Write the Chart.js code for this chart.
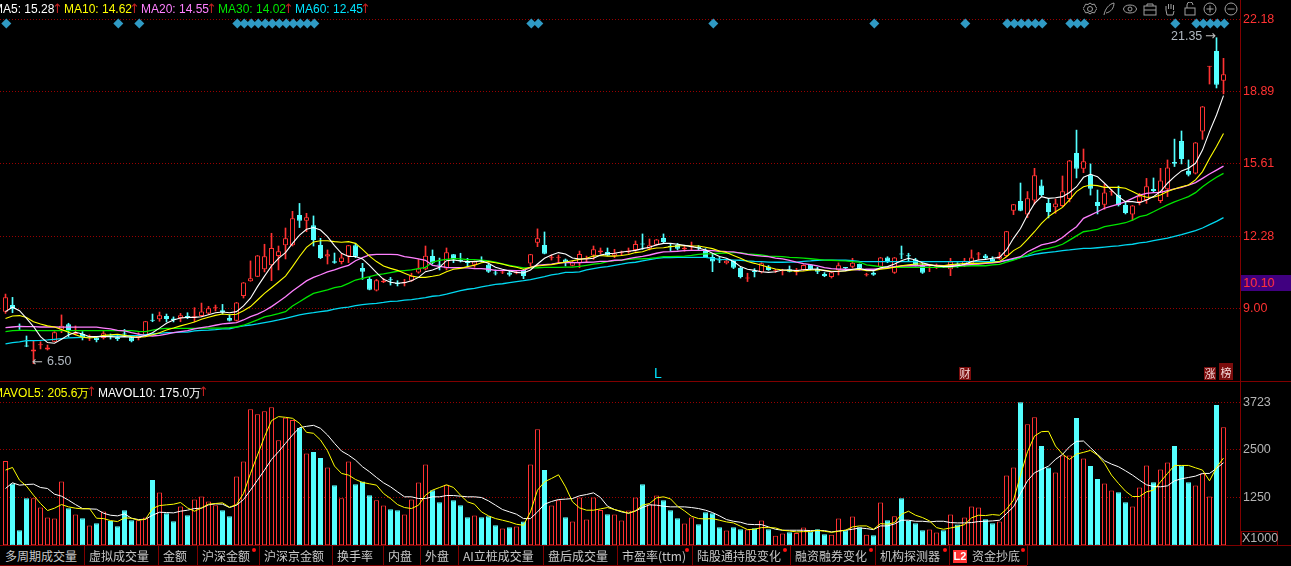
<!DOCTYPE html>
<html>
<head>
<meta charset="utf-8">
<title>K</title>
<script src="https://cdn.jsdelivr.net/npm/chart.js@4"></script>
<style>
html, body { margin: 0; padding: 0; background: #000; overflow: hidden; }
#wrap { position: relative; width: 1291px; height: 566px; background: #000; overflow: hidden;
    font-family: "Liberation Sans", Arial, sans-serif; font-size: 12px; }
canvas { position: absolute; left: 0; }
#wrap span, #wrap div { position: absolute; white-space: nowrap; }
.line { background: #800000; }
.tab { color: #c8c8c8; top: 549px; font-family: "Noto Sans CJK SC", sans-serif; line-height: 14px; }
.sep { top: 546px; width: 1px; height: 19px; background: #800000; }
.dot { top: 548px; width: 4px; height: 4px; border-radius: 2px; background: #ff1010; }
.flag { background: #7a0c0c; color: #f5d8d8; font-family: "Noto Sans CJK SC", sans-serif; line-height: 13px; text-align: center; }
</style>
</head>
<body>
<div id="wrap">
<canvas id="priceChart" width="1291" height="380" style="top:0"></canvas>
<canvas id="volChart" width="1291" height="165" style="top:381px"></canvas>
</div>
<script>
// candles
const opens = [
8.87,9.17,8.20,7.31,7.05,7.34,7.15,7.50,8.06,8.29,
7.85,7.85,7.72,7.69,7.67,7.77,7.70,7.85,7.70,7.67,
7.81,8.48,8.52,8.67,8.56,8.58,8.64,8.60,8.67,8.78,
9.02,8.93,8.58,8.46,9.58,10.25,10.46,10.80,10.98,11.40,
11.89,11.89,13.27,13.01,12.80,11.91,11.38,11.16,11.13,11.39,
11.89,10.86,10.36,9.83,10.21,10.32,10.15,10.17,10.28,10.65,
10.80,11.40,10.99,10.84,11.48,11.20,11.11,11.01,11.22,11.01,
10.63,10.65,10.65,10.62,10.77,11.06,12.01,11.91,11.33,11.32,
11.25,10.96,11.07,11.27,11.43,11.57,11.59,11.42,11.55,11.57,
11.68,11.95,11.74,11.92,12.22,11.84,11.91,11.71,11.80,11.79,
11.63,11.36,11.22,11.07,11.18,10.86,10.38,10.69,10.66,10.93,
10.71,10.71,10.80,10.66,10.75,11.01,10.80,10.59,10.45,10.75,
10.88,10.92,11.04,10.53,10.64,10.92,11.34,10.64,11.49,11.41,
11.25,11.02,10.86,10.91,10.95,10.80,11.04,11.00,11.07,11.47,
11.43,11.28,11.28,11.40,13.47,13.91,13.29,13.93,14.62,13.82,
13.62,13.68,14.00,16.10,15.38,15.11,13.87,13.74,14.31,14.18,
13.73,13.29,13.87,13.96,14.46,13.91,14.44,15.69,16.64,15.28,
15.16,17.08,20.03,20.74,19.39];
const closes = [
9.52,9.00,8.18,7.28,7.15,7.36,7.24,7.93,8.23,7.99,
7.91,7.69,7.76,7.58,7.88,7.75,7.62,7.83,7.52,7.76,
8.43,8.46,8.70,8.53,8.49,8.70,8.62,8.66,8.88,9.02,
9.04,8.84,8.46,9.29,10.20,10.39,11.43,11.39,11.77,11.62,
12.21,13.12,13.01,13.17,12.13,11.31,11.48,11.10,11.34,11.89,
11.37,10.69,9.87,10.30,10.28,10.30,10.13,10.19,10.51,10.84,
11.42,11.10,10.97,11.57,11.25,11.18,11.09,11.16,11.16,10.69,
10.61,10.67,10.55,10.68,10.49,11.48,12.21,11.51,11.35,11.34,
11.10,11.12,11.50,11.29,11.71,11.66,11.43,11.53,11.57,11.65,
11.95,11.93,11.89,12.16,12.04,11.82,11.74,11.78,11.86,11.77,
11.36,11.15,11.20,11.19,10.87,10.45,10.40,10.67,11.07,10.77,
10.73,10.75,10.69,10.74,10.99,10.80,10.69,10.49,10.66,10.98,
10.86,11.10,10.83,10.55,10.55,11.34,11.13,11.34,11.47,11.39,
10.98,10.64,10.88,10.93,10.92,11.15,10.92,11.19,11.34,11.49,
11.31,11.13,11.39,12.53,13.76,13.47,14.03,15.08,14.18,13.41,
13.80,14.35,15.76,15.38,15.72,14.47,13.68,14.30,14.33,13.73,
13.36,13.71,14.13,14.58,14.37,14.85,15.44,15.61,15.82,15.11,
16.58,18.22,20.05,19.21,19.68];
const highs = [
9.67,9.52,8.31,7.76,7.55,7.50,7.35,7.96,8.72,8.34,
8.22,7.96,7.81,7.73,7.97,7.85,7.81,8.06,7.73,7.91,
8.43,8.76,8.85,8.76,8.63,8.79,8.82,9.05,9.26,9.11,
9.17,9.20,8.73,9.29,10.20,11.18,11.43,11.94,12.44,11.86,
12.68,13.44,13.80,13.35,13.23,12.21,11.68,11.54,11.50,11.89,
11.98,11.07,10.43,10.34,10.39,10.43,10.28,10.34,10.62,11.25,
11.86,11.68,11.31,11.77,11.48,11.53,11.30,11.19,11.37,11.04,
10.77,10.72,10.72,10.72,10.80,11.48,12.64,12.50,11.45,11.45,
11.27,11.18,11.63,11.40,11.86,11.77,11.77,11.71,11.63,11.77,
12.09,12.41,12.18,12.16,12.41,11.98,11.98,11.89,12.04,11.88,
11.74,11.50,11.34,11.22,11.19,10.89,10.62,10.83,11.10,10.97,
10.80,10.80,10.95,10.84,11.01,11.01,10.89,10.65,10.66,11.09,
10.89,11.30,11.04,10.62,10.69,11.34,11.37,11.34,11.86,11.53,
11.30,11.07,11.00,11.04,10.98,11.30,11.10,11.30,11.68,11.57,
11.48,11.37,11.57,12.53,13.76,14.73,14.34,15.40,14.87,14.03,
14.00,15.05,15.76,17.14,16.28,15.60,14.41,14.67,14.44,14.59,
13.88,13.71,14.26,14.94,14.96,15.40,15.78,16.73,17.10,15.78,
16.58,18.22,20.05,21.35,20.41];
const lows = [
8.79,8.82,8.06,7.27,6.50,7.17,7.12,7.50,7.91,7.73,
7.81,7.58,7.55,7.49,7.62,7.62,7.55,7.73,7.49,7.58,
7.78,8.41,8.43,8.40,8.40,8.41,8.55,8.41,8.64,8.75,
8.90,8.76,8.44,8.44,9.49,10.25,10.46,10.68,10.28,10.77,
11.27,11.86,12.70,12.51,11.86,11.28,11.04,11.07,11.04,11.10,
11.33,10.34,9.86,9.81,10.19,10.08,10.04,10.04,10.25,10.62,
10.77,11.04,10.77,10.77,11.10,11.13,10.95,10.89,11.13,10.65,
10.54,10.60,10.49,10.59,10.37,10.95,11.83,11.50,11.22,11.10,
10.95,10.95,10.87,11.10,11.25,11.50,11.42,11.33,11.42,11.53,
11.62,11.71,11.68,11.89,12.01,11.63,11.68,11.62,11.68,11.68,
11.33,10.69,11.10,11.04,10.83,10.40,10.24,10.45,10.63,10.75,
10.65,10.54,10.68,10.54,10.74,10.77,10.60,10.46,10.40,10.54,
10.77,10.86,10.77,10.49,10.52,10.89,11.10,10.61,11.28,11.16,
10.95,10.61,10.69,10.83,10.89,10.51,10.89,10.92,11.04,11.22,
11.28,11.10,11.25,11.37,13.29,13.46,13.15,13.77,14.15,13.14,
13.35,13.65,13.87,14.96,15.20,14.18,13.32,13.53,14.17,13.68,
13.32,13.04,13.73,13.80,14.29,13.83,14.11,15.48,15.60,15.05,
15.14,16.72,19.24,19.06,18.79];

// moving average lines
const ma5 = [
8.87,9.07,8.91,8.56,8.19,7.73,7.46,7.43,7.61,7.81,
7.93,7.85,7.73,7.73,7.73,7.73,7.71,7.73,7.70,7.71,
7.78,7.91,8.12,8.34,8.49,8.58,8.61,8.61,8.64,8.73,
8.82,8.85,8.82,8.87,9.13,9.48,10.01,10.49,10.95,11.30,
11.56,11.98,12.36,12.62,12.70,12.59,12.29,11.88,11.53,11.38,
11.38,11.27,10.98,10.65,10.34,10.21,10.16,10.19,10.28,10.43,
10.69,10.77,10.89,11.19,11.22,11.18,11.15,11.15,11.18,11.07,
10.89,10.80,10.72,10.66,10.63,10.77,11.04,11.30,11.45,11.56,
11.50,11.31,11.27,11.27,11.30,11.45,11.51,11.53,11.59,11.62,
11.66,11.74,11.80,11.91,11.98,11.98,11.94,11.89,11.83,11.77,
11.68,11.53,11.38,11.30,11.15,10.92,10.80,10.75,10.69,10.66,
10.69,10.77,10.77,10.74,10.78,10.80,10.81,10.74,10.69,10.71,
10.74,10.80,10.84,10.77,10.74,10.87,10.92,11.04,11.19,11.30,
11.22,11.10,11.00,10.95,10.92,10.92,10.96,11.02,11.15,11.22,
11.25,11.30,11.34,11.68,12.21,12.66,13.27,13.80,14.11,14.03,
14.06,14.11,14.30,14.56,14.99,15.13,15.02,14.72,14.41,14.11,
13.88,13.88,13.83,13.96,14.11,14.34,14.72,15.02,15.28,15.40,
15.63,16.23,17.07,17.83,18.71];
const ma10 = [
8.56,8.67,8.69,8.60,8.41,8.31,8.22,8.17,8.06,7.93,
7.82,7.71,7.67,7.70,7.79,7.81,7.84,7.79,7.73,7.70,
7.73,7.82,7.91,8.03,8.12,8.22,8.31,8.40,8.52,8.61,
8.70,8.76,8.73,8.75,8.91,9.10,9.40,9.70,9.96,10.22,
10.49,10.92,11.38,11.80,12.04,12.10,12.10,12.06,12.03,12.06,
11.98,11.71,11.40,11.15,10.95,10.84,10.75,10.62,10.49,10.43,
10.43,10.48,10.54,10.69,10.80,10.84,10.92,10.98,11.10,11.15,
11.10,11.04,10.95,10.89,10.80,10.89,10.95,10.98,11.01,11.07,
11.13,11.19,11.25,11.30,11.40,11.43,11.40,11.40,11.43,11.47,
11.56,11.60,11.71,11.77,11.78,11.83,11.86,11.88,11.86,11.86,
11.80,11.74,11.63,11.56,11.43,11.30,11.15,11.07,10.98,10.89,
10.81,10.77,10.74,10.71,10.72,10.77,10.77,10.75,10.71,10.71,
10.72,10.77,10.80,10.74,10.74,10.80,10.84,10.89,10.96,11.00,
11.04,11.04,11.01,10.96,10.96,11.01,11.04,11.06,11.07,11.07,
11.10,11.12,11.15,11.37,11.65,11.83,12.16,12.51,12.89,13.20,
13.42,13.62,13.96,14.34,14.56,14.64,14.61,14.53,14.53,14.53,
14.49,14.34,14.18,14.08,14.08,14.18,14.34,14.46,14.56,14.64,
14.87,15.25,15.85,16.39,16.99];
const ma20 = [
8.14,8.17,8.20,8.19,8.19,8.17,8.17,8.17,8.16,8.16,
8.16,8.16,8.16,8.16,8.12,8.08,8.02,7.99,7.91,7.85,
7.78,7.76,7.79,7.85,7.91,7.96,8.00,8.08,8.14,8.19,
8.25,8.31,8.34,8.37,8.49,8.64,8.76,8.91,9.10,9.32,
9.55,9.81,10.04,10.27,10.43,10.55,10.68,10.77,10.89,10.98,
11.19,11.33,11.45,11.48,11.48,11.48,11.47,11.38,11.33,11.27,
11.21,10.98,10.93,10.89,10.87,10.87,10.86,10.83,10.83,10.80,
10.75,10.75,10.75,10.74,10.74,10.89,10.98,11.01,11.03,11.09,
11.10,11.10,11.10,11.12,11.13,11.16,11.16,11.21,11.22,11.28,
11.34,11.39,11.45,11.53,11.59,11.60,11.62,11.65,11.66,11.66,
11.66,11.65,11.62,11.60,11.59,11.54,11.48,11.43,11.40,11.38,
11.31,11.27,11.21,11.13,11.06,11.01,10.95,10.87,10.83,10.81,
10.80,10.78,10.77,10.80,10.80,10.83,10.87,10.92,10.95,10.96,
10.96,10.96,10.98,10.98,10.96,10.98,10.98,11.00,11.02,11.04,
11.07,11.09,11.13,11.22,11.30,11.37,11.60,11.75,11.91,11.98,
12.06,12.25,12.51,12.74,13.12,13.27,13.42,13.58,13.68,13.77,
13.88,14.03,14.18,14.26,14.29,14.30,14.38,14.46,14.53,14.63,
14.75,14.94,15.14,15.32,15.50];
const ma30 = [
7.96,8.00,8.02,8.02,8.00,8.00,8.00,8.00,8.00,8.00,
8.00,8.00,8.00,8.00,8.00,8.00,8.00,8.00,8.00,7.97,
7.96,8.03,8.08,8.11,8.11,8.11,8.11,8.11,8.12,8.12,
8.12,8.12,8.14,8.17,8.25,8.37,8.49,8.63,8.70,8.78,
8.87,9.13,9.32,9.52,9.70,9.78,9.86,9.96,10.02,10.16,
10.31,10.39,10.46,10.54,10.59,10.65,10.71,10.74,10.77,10.83,
10.89,11.13,11.21,11.25,11.28,11.27,11.24,11.24,11.21,11.18,
11.13,11.04,10.98,10.92,10.86,10.86,10.87,10.89,10.89,10.89,
10.90,10.90,10.93,10.98,11.03,11.07,11.15,11.19,11.22,11.25,
11.27,11.28,11.30,11.33,11.38,11.38,11.39,11.40,11.43,11.48,
11.50,11.51,11.53,11.54,11.56,11.56,11.50,11.48,11.45,11.40,
11.39,11.38,11.34,11.33,11.31,11.28,11.25,11.22,11.21,11.19,
11.18,11.15,11.13,11.00,10.96,10.92,10.89,10.89,10.89,10.89,
10.89,10.89,10.89,10.89,10.90,10.90,10.92,10.95,10.96,10.96,
10.96,11.00,11.02,11.12,11.22,11.33,11.45,11.60,11.68,11.75,
11.83,11.94,12.13,12.32,12.51,12.56,12.62,12.74,12.80,12.86,
12.92,13.04,13.20,13.27,13.42,13.58,13.73,13.87,13.99,14.11,
14.29,14.56,14.79,14.99,15.17];
const ma60 = [
7.40,7.46,7.49,7.55,7.55,7.56,7.58,7.61,7.64,7.67,
7.69,7.70,7.71,7.73,7.75,7.76,7.76,7.78,7.78,7.79,
7.82,7.85,7.88,7.91,7.91,7.94,7.94,7.99,8.02,8.03,
8.05,8.08,8.09,8.16,8.22,8.26,8.31,8.37,8.43,8.49,
8.56,8.64,8.72,8.78,8.82,8.87,8.91,8.98,9.04,9.08,
9.14,9.19,9.22,9.25,9.29,9.34,9.35,9.39,9.42,9.46,
9.51,9.57,9.60,9.67,9.75,9.83,9.89,9.93,10.00,10.05,
10.11,10.14,10.19,10.24,10.28,10.33,10.40,10.46,10.54,10.59,
10.66,10.66,10.68,10.77,10.83,10.89,10.92,10.98,11.03,11.09,
11.12,11.18,11.24,11.30,11.33,11.33,11.34,11.34,11.34,11.34,
11.34,11.30,11.25,11.24,11.22,11.21,11.18,11.16,11.15,11.13,
11.12,11.12,11.13,11.13,11.16,11.18,11.21,11.22,11.22,11.21,
11.21,11.19,11.16,11.15,11.15,11.15,11.15,11.15,11.15,11.15,
11.15,11.15,11.15,11.15,11.15,11.15,11.15,11.15,11.15,11.15,
11.15,11.15,11.16,11.19,11.25,11.34,11.40,11.48,11.53,11.57,
11.60,11.65,11.68,11.72,11.75,11.75,11.78,11.81,11.84,11.87,
11.91,11.94,12.00,12.04,12.10,12.16,12.22,12.30,12.38,12.47,
12.56,12.68,12.83,12.98,13.15];

// volume pane, x1000 units
const volumes = [
2192,1610,392,1227,1227,983,722,696,1662,966,
800,705,513,574,879,635,496,914,653,653,
722,1697,1375,835,626,1009,783,1192,1270,1140,
1044,914,757,1792,2184,3541,3410,3489,3593,2732,
3323,3263,3062,2393,2427,2271,2027,1566,1227,2184,
1592,1662,1305,1175,1035,940,914,800,1192,1636,
2105,1436,1122,1575,1175,1044,731,774,731,757,
522,435,470,487,618,2105,3019,1958,1035,1175,
731,618,1244,670,1244,922,809,800,644,905,
1244,1592,1070,1296,1175,914,705,566,722,548,
861,835,470,383,470,418,409,444,644,418,
252,305,339,322,461,357,418,287,278,696,
392,748,470,278,261,1114,652,757,1227,635,
574,392,409,331,392,800,539,722,1009,983,
679,574,618,1818,2027,3723,3149,3332,2584,2027,
1897,2340,2340,3315,2262,2062,1723,1610,1427,1383,
1122,1009,1505,2079,1644,1975,2158,2584,2079,1644,
1557,1871,1270,3654,3071];
const mavol5 = [
1958,2027,1697,1540,1305,1088,905,966,1061,1001,
966,948,957,705,696,644,618,713,705,653,
679,957,1035,1053,1070,1114,974,887,974,1070,
1088,1105,992,1061,1349,1871,2349,2828,3245,3350,
3332,3306,3176,2941,2915,2741,2462,2062,1871,1827,
1714,1636,1601,1566,1349,1218,1061,983,957,1044,
1305,1436,1505,1575,1505,1305,1131,1070,870,766,
696,653,609,548,522,870,1436,1653,1740,1836,
1523,1131,974,914,914,948,983,931,887,835,
896,1044,1088,1235,1262,1209,1018,896,757,696,
687,696,653,609,583,496,409,418,461,461,
452,392,374,348,357,357,392,365,339,365,
392,479,505,505,418,566,548,592,809,887,
783,722,635,461,418,452,487,539,713,783,
774,800,783,940,1175,1827,2436,2845,2958,2967,
2584,2375,2236,2375,2419,2471,2349,2132,1827,1610,
1409,1270,1270,1392,1436,1653,1871,2079,2079,2079,
2018,1958,1679,2027,2271];
const mavol10 = [
1479,1627,1566,1583,1592,1505,1479,1331,1279,1175,
1061,957,948,940,835,783,766,818,705,670,
679,783,861,853,844,887,914,957,966,1053,
1079,1070,983,1044,1192,1436,1697,1958,2236,2436,
2654,2871,3062,3097,3123,3045,2871,2654,2453,2349,
2219,2045,1914,1766,1627,1523,1392,1262,1262,1218,
1218,1262,1262,1296,1296,1279,1262,1262,1244,1157,
1044,931,870,809,696,696,870,1070,1140,1192,
1201,1218,1288,1322,1366,1244,1018,931,870,835,
896,983,1053,1044,1018,1001,1001,1001,983,957,
914,853,766,670,626,600,548,539,539,479,
418,392,392,392,392,383,383,383,348,374,
392,418,452,435,409,505,505,557,653,653,
626,626,609,626,626,592,583,583,592,618,
626,635,653,827,1001,1349,1679,1888,1975,2062,
2236,2366,2567,2706,2714,2540,2366,2201,2114,2045,
1940,1827,1697,1575,1531,1523,1549,1679,1731,1766,
1801,1871,1871,2001,2149];

// axis ticks and the row of diamond signals
const priceTicks = [22.18, 18.89, 15.61, 12.28, 9.00];
const volTicks = [3723, 2500, 1250];
const signalBars = [0,16,19,33,34,35,36,37,38,39,40,41,42,43,44,75,76,101,124,137,143,144,145,146,147,148,152,153,154,167,170,171,172,173,174];
const signalPrice = 22.0;

const legendTop = [
    ['MA5: 15.28', '#ffffff', -7, 52],
    ['MA10: 14.62', '#ffff00', 64, 129],
    ['MA20: 14.55', '#ff80ff', 141, 206],
    ['MA30: 14.02', '#00e600', 218, 283],
    ['MA60: 12.45', '#00e5ff', 295, 360]
];
const legendVol = [
    ['MAVOL5: 205.6万', '#ffff00', -7, 86],
    ['MAVOL10: 175.0万', '#ffffff', 98, 198]
];
const tabs = [
    ['多周期成交量', 0], ['虚拟成交量', 84], ['金额', 158], ['沪深金额', 197], ['沪深京金额', 259],
    ['换手率', 332], ['内盘', 383], ['外盘', 420], ['AI立桩成交量', 458], ['盘后成交量', 543],
    ['市盈率(ttm)', 617], ['陆股通持股变化', 692], ['融资融券变化', 790], ['机构探测器', 875]
];
const tabDots = [254, 687, 785, 871, 945, 1023];

const RED = '#ff3232';
const CYAN = '#54ffff';
const GRID = '#990000';
const PLOT_W = 1240;
const BAR_X0 = 5.5; // pixel centre of first bar
const BAR_STEP = 7;
const xMin = -BAR_X0 / BAR_STEP;
const xMax = (PLOT_W - BAR_X0) / BAR_STEP;

const isUp = opens.map((o, i) => closes[i] >= o);
const upColors = isUp.map(u => u ? RED : CYAN);

function maLine(values, color, order, width) {
    return {
        type: 'line',
        data: values.map((v, i) => ({ x: i, y: v })),
        borderColor: color,
        borderWidth: width,
        pointRadius: 0,
        tension: 0,
        order: order
    };
}

function yAxis(min, max, ticks, color, fmt) {
    return {
        position: 'right',
        min: min,
        max: max,
        afterBuildTicks: scale => { scale.ticks = ticks.map(v => ({ value: v })); },
        afterFit: scale => {
            scale.width = 1291 - PLOT_W;
            scale.paddingTop = 0;
            scale.paddingBottom = 0;
        },
        grid: { color: GRID, drawTicks: false, lineWidth: 1 },
        border: { display: false, dash: [1, 2] },
        ticks: {
            color: color,
            padding: 3,
            autoSkip: false,
            maxRotation: 0,
            font: { family: '"Liberation Sans", Arial, sans-serif', size: 12.5 },
            callback: fmt
        }
    };
}

const xAxis = { type: 'linear', display: false, offset: false, min: xMin, max: xMax };

const baseOptions = {
    responsive: false,
    animation: false,
    devicePixelRatio: 1,
    layout: { padding: 0, autoPadding: false },
    plugins: { legend: { display: false }, tooltip: { enabled: false } },
    events: []
};

// price pane
new Chart(document.getElementById('priceChart').getContext('2d'), {
    type: 'bar',
    data: {
        datasets: [
            {
                type: 'line',
                data: signalBars.map(i => ({ x: i + 0.12, y: signalPrice })),
                showLine: false,
                pointStyle: 'rectRot',
                pointRadius: 5,
                pointBackgroundColor: '#2f9ac4',
                pointBorderWidth: 0,
                order: 0
            },
            maLine(ma5, '#ffffff', 1, 1.1),
            maLine(ma10, '#ffff00', 2, 1.1),
            maLine(ma20, '#ff80ff', 3, 1.3),
            maLine(ma30, '#00e600', 4, 1.3),
            maLine(ma60, '#00d8f0', 5, 1.3),
            {
                data: opens.map((o, i) => ({ x: i, y: [o, closes[i]] })),
                grouped: false,
                barPercentage: 5 / 7,
                categoryPercentage: 1,
                minBarLength: 1,
                borderWidth: 1,
                borderSkipped: false,
                borderColor: upColors,
                backgroundColor: isUp.map(u => u ? '#000000' : CYAN),
                order: 6
            },
            {
                data: lows.map((l, i) => ({ x: i, y: [l, highs[i]] })),
                grouped: false,
                barPercentage: 1,
                categoryPercentage: 1,
                maxBarThickness: 1,
                borderWidth: 0,
                backgroundColor: upColors,
                order: 7
            }
        ]
    },
    options: Object.assign({}, baseOptions, {
        scales: {
            x: xAxis,
            y: yAxis(5.755, 23.068, priceTicks, RED, v => v.toFixed(2))
        }
    })
});

// volume pane
new Chart(document.getElementById('volChart').getContext('2d'), {
    type: 'bar',
    data: {
        datasets: [
            maLine(mavol5, '#ffff00', 1, 1),
            maLine(mavol10, '#ffffff', 2, 1),
            {
                data: volumes.map((v, i) => ({ x: i, y: v })),
                grouped: false,
                barPercentage: 5 / 7,
                categoryPercentage: 1,
                borderWidth: 1,
                borderSkipped: false,
                borderColor: upColors,
                backgroundColor: isUp.map(u => u ? '#000000' : CYAN),
                order: 3
            }
        ]
    },
    options: Object.assign({}, baseOptions, {
        scales: {
            x: xAxis,
            y: yAxis(-18, 4277, volTicks, '#b4b4b4', v => String(v))
        }
    })
});

// text and frame around the charts
const wrap = document.getElementById('wrap');

function addEl(tag, cls, css, text) {
    const el = document.createElement(tag);
    if (cls) el.className = cls;
    el.style.cssText = css;
    if (text !== undefined) el.textContent = text;
    wrap.appendChild(el);
    return el;
}

function addLegend(items, top) {
    items.forEach(([label, color, x, arrowX]) => {
        addEl('span', '', `left:${x}px;top:${top}px;color:${color}`, label);
        addEl('span', '', `left:${arrowX}px;top:${top - 1}px;color:#c02020;font:13px "DejaVu Sans"`, '↑');
    });
}

addEl('div', 'line', 'left:1240px;top:0;width:1px;height:545px');
addEl('div', 'line', 'left:0;top:381px;width:1291px;height:1px');
addEl('div', 'line', 'left:0;top:545px;width:1291px;height:1px');
addEl('div', 'line', 'left:0;top:565px;width:1027px;height:1px');

addLegend(legendTop, 2);
addLegend(legendVol, 385);

tabs.forEach(([label, x]) => {
    addEl('span', 'tab', `left:${x + 5}px`, label);
    if (x > 0) addEl('div', 'sep', `left:${x}px`);
});
addEl('div', 'sep', 'left:949px');
addEl('div', 'sep', 'left:1027px');
tabDots.forEach(x => addEl('div', 'dot', `left:${x - 2}px`));
addEl('div', '', `left:953px;top:550px;width:14px;height:13px;line-height:13px;background:${RED};color:#fff;font-weight:bold;font-size:11px;text-align:center`, 'L2');
addEl('span', 'tab', 'left:972px', '资金抄底');

// last price box and unit box
addEl('div', '', `left:1241px;top:275px;width:50px;height:16px;line-height:17px;background:#400080;color:${RED};font-size:12.5px;text-indent:2px`, '10.10');
addEl('div', '', 'left:1241px;top:531px;width:35px;height:13px;line-height:13px;border:1px solid #800000;color:#b4b4b4;font-size:12.5px;text-align:center', 'X1000');

// high and low notes, with their little arrows
addEl('span', '', 'left:47px;top:354px;color:#b0b8c0;font-size:12.5px', '6.50');
addEl('span', '', 'left:32px;top:354px;color:#c0c0c0;font:13px "DejaVu Sans"', '←');
addEl('span', '', 'left:1171px;top:29px;color:#b0b8c0;font-size:12.5px', '21.35');
addEl('span', '', 'left:1205px;top:28px;color:#c0c0c0;font:13px "DejaVu Sans"', '→');

// event flags
addEl('span', '', 'left:654px;top:365px;color:#00e5ff;font-size:14px', 'L');
addEl('div', 'flag', 'left:959px;top:367px;width:12px;height:13px;font-size:11px', '财');
addEl('div', 'flag', 'left:1204px;top:367px;width:12px;height:13px;font-size:11px', '涨');
addEl('div', 'flag', 'left:1219px;top:363px;width:14px;height:17px;line-height:19px;font-size:11px', '榜');

// toolbar icons
const toolIcons = [
    [1090, '<circle cx="7" cy="7" r="2.5"/><path d="M7 1l2 1.5 2.5-.3 1 2.3 1.5 2-1.5 2-1 2.3-2.5-.3-2 1.5-2-1.5-2.5.3-1-2.3-1.5-2 1.5-2 1-2.3 2.5.3z"/>'],
    [1109, '<path d="M2 13C3 7 7 2 12 1c0 5-3 9-8 10"/>'],
    [1130, '<ellipse cx="7" cy="7" rx="6.5" ry="4"/><circle cx="7" cy="7" r="2"/>'],
    [1150, '<rect x="1" y="4" width="12" height="9"/><path d="M4 4V2h6v2M1 8h12"/>'],
    [1170, '<path d="M3 8V4M5.5 7V2M8 7V2M10.5 8V3M3 8l1 5h6l1-4"/>'],
    [1190, '<rect x="2" y="6" width="10" height="7"/><path d="M4 6V3a3 3 0 0 1 6 0"/>'],
    [1210, '<circle cx="7" cy="7" r="6"/><path d="M3.5 7h7M7 3.5v7"/>'],
    [1231, '<circle cx="7" cy="7" r="6"/><path d="M3.5 7h7"/>']
];
toolIcons.forEach(([x, shapes]) => {
    const holder = addEl('div', '', `left:${x - 7}px;top:2px;width:14px;height:14px`);
    holder.innerHTML = `<svg width="14" height="14" viewBox="0 0 14 14" fill="none" stroke="#a0a0a0" stroke-width="1">${shapes}</svg>`;
});
</script>
</body>
</html>
